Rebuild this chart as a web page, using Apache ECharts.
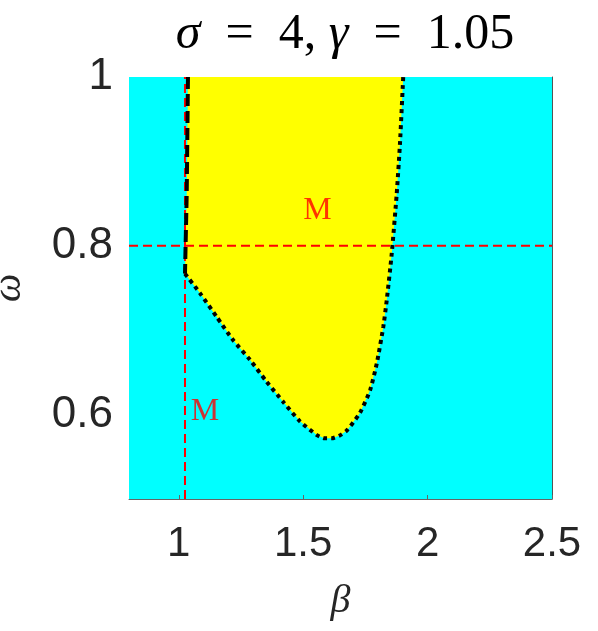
<!DOCTYPE html>
<html>
<head>
<meta charset="utf-8">
<script src="https://cdn.jsdelivr.net/npm/echarts@6/dist/echarts.min.js"></script>
<style>
  html, body { margin: 0; padding: 0; background: #fff; }
  #chart { width: 598px; height: 631px; }
</style>
</head>
<body>
<div id="chart"></div>
<script>
// axis ticks
var xTicks = [1, 1.5, 2, 2.5]
var yTicks = [0.6, 0.8, 1]

// left boundary of the yellow region (dashed)
var leftBeta = [1.037, 1.032, 1.025]
var leftOmega = [1.0, 0.862, 0.767]

// lower / right boundary (dotted)
var curveBeta = [1.025, 1.085, 1.152, 1.219, 1.286, 1.353, 1.420, 1.487, 1.554, 1.585, 1.615, 1.645, 1.675, 1.728, 1.769, 1.796, 1.822, 1.836, 1.856, 1.876, 1.889, 1.902]
var curveOmega = [0.767, 0.744, 0.716, 0.688, 0.665, 0.639, 0.615, 0.592, 0.576, 0.572, 0.572, 0.575, 0.581, 0.602, 0.629, 0.661, 0.704, 0.736, 0.791, 0.862, 0.921, 1.0]

// red reference lines
var refBeta = 1.025
var refOmega = 0.8

// "M" labels
var labelBeta = [1.105, 1.557]
var labelOmega = [0.603, 0.842]

var chart = echarts.init(document.getElementById('chart'))

function pairs(xs, ys) {
  return xs.map(function (x, i) { return [x, ys[i]] })
}

var leftLine = pairs(leftBeta, leftOmega)
var curveLine = pairs(curveBeta, curveOmega)
// closed polygon of the yellow region
var region = leftLine.concat(curveLine.slice(1))

var serif = 'Liberation Serif'
var sans = 'Liberation Sans'

chart.setOption({
  animation: false,
  title: {
    text: '{i|σ}  =  4, {i|γ}  =  1.05',
    left: 340,
    top: 5,
    textAlign: 'center',
    textStyle: {
      fontFamily: serif,
      fontSize: 50,
      fontWeight: 'normal',
      color: '#000',
      rich: {
        i: { fontFamily: serif, fontSize: 50, fontStyle: 'italic', color: '#000' }
      }
    }
  },
  grid: {
    left: 129,
    top: 77,
    width: 423,
    height: 422,
    outerBoundsMode: 'none',
    containLabel: false,
    show: true,
    backgroundColor: '#00ffff',
    borderWidth: 0
  },
  xAxis: {
    type: 'value',
    min: 0.8,
    max: 2.5,
    name: 'β',
    nameLocation: 'middle',
    nameGap: 82,
    nameTextStyle: { fontFamily: serif, fontStyle: 'italic', fontSize: 40, color: '#262626' },
    axisLine: { show: true, onZero: false, lineStyle: { color: '#666', width: 1 } },
    axisTick: { show: true, inside: true, length: 4, customValues: xTicks, lineStyle: { color: '#666' } },
    axisLabel: {
      customValues: xTicks,
      margin: 24,
      fontFamily: sans,
      fontSize: 42,
      color: '#262626',
      formatter: function (v) { return String(v) }
    },
    splitLine: { show: false }
  },
  yAxis: [{
    type: 'value',
    min: 0.5,
    max: 1,
    name: 'ω',
    nameLocation: 'middle',
    nameRotate: 90,
    nameGap: 100,
    nameTextStyle: { fontFamily: serif, fontStyle: 'italic', fontSize: 40, color: '#262626' },
    axisLine: { show: false },
    axisTick: { show: false },
    axisLabel: {
      customValues: yTicks,
      margin: 16,
      fontFamily: sans,
      fontSize: 44,
      color: '#262626',
      formatter: function (v) { return String(v) }
    },
    splitLine: { show: false }
  }, {
    type: 'value',
    min: 0.5,
    max: 1,
    position: 'right',
    axisLine: { show: true, lineStyle: { color: '#555', width: 1 } },
    axisTick: { show: false },
    axisLabel: { show: false },
    splitLine: { show: false }
  }],
  series: [
    {
      type: 'custom',
      silent: true,
      z: 1,
      renderItem: function (params, api) {
        var pts = region.map(function (p) { return api.coord(p) })
        return {
          type: 'polygon',
          shape: { points: pts },
          style: { fill: '#ffff00', stroke: null }
        }
      },
      data: [0]
    },
    {
      type: 'line',
      z: 2,
      symbol: 'none',
      data: [[refBeta, 0.5], [refBeta, 1]],
      lineStyle: { color: '#ff0000', width: 2, type: [9, 5] }
    },
    {
      type: 'line',
      z: 2,
      symbol: 'none',
      data: [[0.8, refOmega], [2.5, refOmega]],
      lineStyle: { color: '#ff0000', width: 2, type: [9, 5] }
    },
    {
      type: 'line',
      z: 3,
      symbol: 'none',
      data: leftLine,
      lineStyle: { color: '#000', width: 4, type: [12, 5] }
    },
    {
      type: 'line',
      z: 3,
      symbol: 'none',
      smooth: 0.2,
      data: curveLine,
      lineStyle: { color: '#000', width: 4, type: [4, 4] }
    },
    {
      type: 'scatter',
      z: 4,
      symbolSize: 0,
      data: pairs(labelBeta, labelOmega),
      label: {
        show: true,
        position: 'inside',
        formatter: 'M',
        fontFamily: serif,
        fontSize: 32,
        color: '#ff0000'
      }
    }
  ]
})
</script>
</body>
</html>
